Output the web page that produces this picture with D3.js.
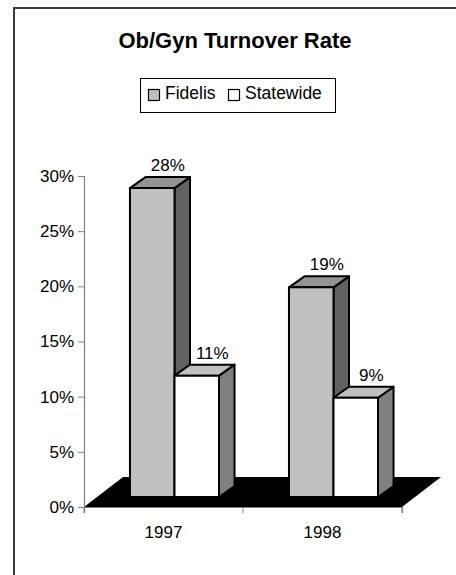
<!DOCTYPE html>
<html>
<head>
<meta charset="utf-8">
<script src="https://cdn.jsdelivr.net/npm/d3@7"></script>
<style>
  body { margin: 0; background: #fff; }
  text { font-family: Arial, "Liberation Sans", sans-serif; fill: #000; }
</style>
</head>
<body>
<div id="viz"></div>
<script>
// data
const categories = ["1997", "1998"];
const seriesNames = ["Fidelis", "Statewide"];
const fidelis = [28, 19];
const statewide = [11, 9];
const yTicks = [0, 5, 10, 15, 20, 25, 30];

const W = 456, H = 575;
const svg = d3.select("#viz").append("svg")
    .attr("width", W)
    .attr("height", H);

// chart frame (only left/top show in the picture)
svg.append("rect")
    .attr("x", 14).attr("y", 8)
    .attr("width", 480).attr("height", 620)
    .attr("fill", "none")
    .attr("stroke", "#3a3a3a")
    .attr("stroke-width", 2);

svg.append("text")
    .attr("x", 235).attr("y", 48)
    .attr("text-anchor", "middle")
    .style("font-size", "22px")
    .style("font-weight", "bold")
    .text("Ob/Gyn Turnover Rate");

// scales
const x = d3.scaleBand().domain(categories).range([84, 402]);
const y = d3.scaleLinear().domain([0, 30]).range([507, 176]);

const floorDepth = { dx: 39, dy: -30 };
const barOffset = { dx: 11, dy: -10 };   // bar front plane inside the floor
const barDepth = { dx: 15.5, dy: -11 };
const barW = x.bandwidth() * 0.28;

// floor
const x0 = x.range()[0], x1 = x.range()[1], y0 = y(0);
svg.append("polygon")
    .attr("points", [
        [x0, y0], [x1, y0],
        [x1 + floorDepth.dx, y0 + floorDepth.dy],
        [x0 + floorDepth.dx, y0 + floorDepth.dy]
    ].map(p => p.join(",")).join(" "))
    .attr("fill", "#000");

// axes
const yAxis = svg.append("g")
    .attr("transform", `translate(${x0},0)`)
    .call(d3.axisLeft(y).tickValues(yTicks).tickSize(6).tickPadding(4)
        .tickFormat(d => d + "%"));
const xAxis = svg.append("g")
    .attr("transform", `translate(0,${y0})`)
    .call(d3.axisBottom(x).tickSize(6).tickPadding(8));
xAxis.selectAll(".tick line").remove();
// category boundary ticks
xAxis.selectAll("line.bound")
    .data(categories.map(c => x(c)).concat([x1]))
    .join("line")
    .attr("class", "bound")
    .attr("x1", d => d).attr("x2", d => d)
    .attr("y1", 0).attr("y2", 6)
    .attr("stroke", "#808080");

[yAxis, xAxis].forEach(g => {
    g.select(".domain").attr("stroke", "#808080").attr("stroke-width", 1.2);
    g.selectAll(".tick line").attr("stroke", "#808080");
    g.selectAll("text").style("font-size", "17px").attr("fill", "#000")
        .style("font-family", "Arial, 'Liberation Sans', sans-serif");
});
xAxis.selectAll(".tick text").attr("dy", "1em");

// bars
const series = [
    { name: seriesNames[0], values: fidelis, front: "#c0c0c0", top: "#939393", side: "#626262" },
    { name: seriesNames[1], values: statewide, front: "#ffffff", top: "#c0c0c0", side: "#808080" }
];

const bars = [];
categories.forEach((c, ci) => {
    const cx = x(c) + x.bandwidth() / 2 + barOffset.dx;
    series.forEach((s, si) => {
        bars.push({
            s, v: s.values[ci],
            bx: cx - barW + si * barW,
            by: y(s.values[ci]) + barOffset.dy,
            base: y0 + barOffset.dy
        });
    });
});

const dx = barDepth.dx, dy = barDepth.dy;
const gb = svg.append("g")
    .attr("stroke", "#000")
    .attr("stroke-width", 2)
    .attr("stroke-linejoin", "round");

bars.forEach(b => {
    const g = gb.append("g");
    g.append("polygon")
        .attr("points", [[b.bx + barW, b.by], [b.bx + barW + dx, b.by + dy],
            [b.bx + barW + dx, b.base + dy], [b.bx + barW, b.base]].map(p => p.join(",")).join(" "))
        .attr("fill", b.s.side);
    g.append("polygon")
        .attr("points", [[b.bx, b.by], [b.bx + dx, b.by + dy],
            [b.bx + barW + dx, b.by + dy], [b.bx + barW, b.by]].map(p => p.join(",")).join(" "))
        .attr("fill", b.s.top);
    g.append("rect")
        .attr("x", b.bx).attr("y", b.by)
        .attr("width", barW).attr("height", b.base - b.by)
        .attr("fill", b.s.front);
});

// data labels
svg.append("g").selectAll("text")
    .data(bars)
    .join("text")
    .attr("x", d => d.bx + barW / 2 + dx)
    .attr("y", d => d.by + dy - 6)
    .attr("text-anchor", "middle")
    .style("font-size", "17px")
    .text(d => d.v + "%");

// legend
const lg = svg.append("g");
lg.append("rect")
    .attr("x", 140.5).attr("y", 78.5)
    .attr("width", 195).attr("height", 34)
    .attr("fill", "#fff")
    .attr("stroke", "#000")
    .attr("stroke-width", 1);
const legendX = [148, 228];
series.forEach((s, i) => {
    lg.append("rect")
        .attr("x", legendX[i] + 0.5).attr("y", 89.5)
        .attr("width", 11).attr("height", 11)
        .attr("fill", s.front)
        .attr("stroke", "#000")
        .attr("stroke-width", 1.2);
    lg.append("text")
        .attr("x", legendX[i] + 17).attr("y", 99)
        .style("font-size", "17.5px")
        .text(s.name);
});
</script>
</body>
</html>
